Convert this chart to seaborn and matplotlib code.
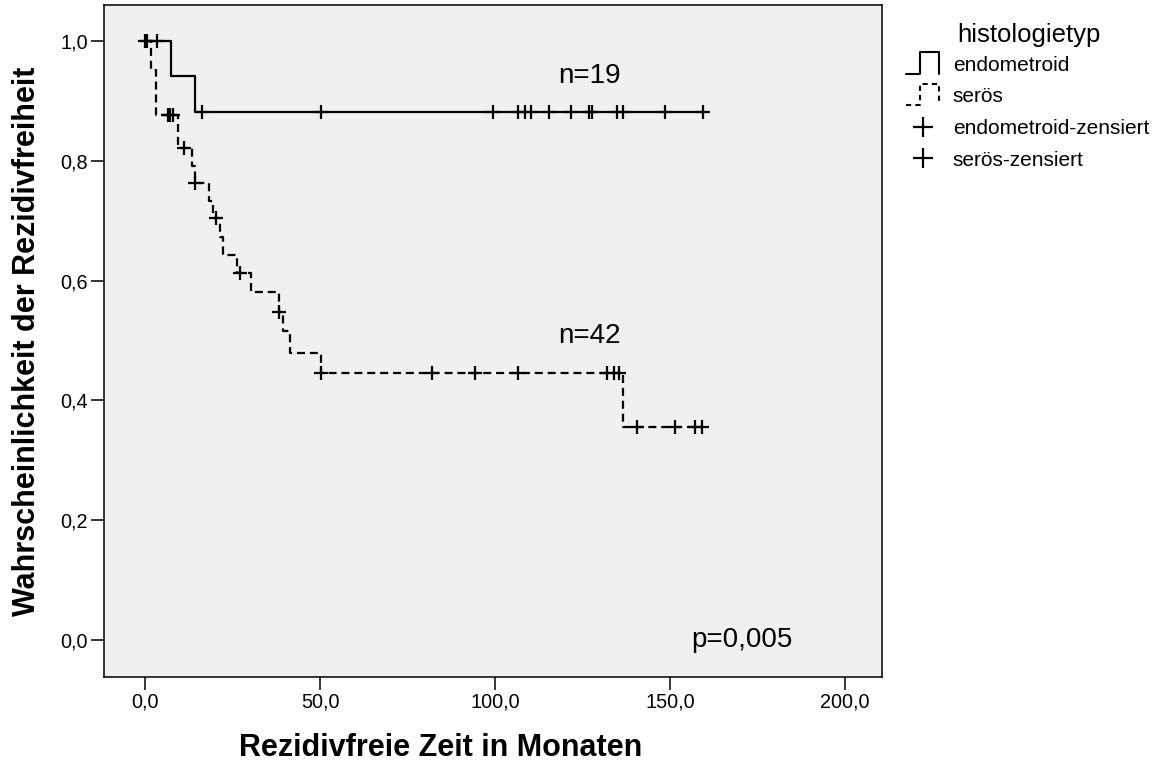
import numpy as np
import pandas as pd
import matplotlib
matplotlib.use("Agg")
import matplotlib.pyplot as plt
import seaborn as sns
from matplotlib.lines import Line2D
from matplotlib.legend_handler import HandlerBase

# ---------------- data ----------------
# endometroid: event times (months) and survival after each step
endo_event_times = [7.3, 14.4]
endo_surv = [0.941, 0.882]
endo_censor_times = [0.0, 3.3, 16.3, 50.3, 99.5, 106.5, 108.4, 110.3, 115.4,
                     121.6, 126.8, 127.6, 134.7, 136.6, 148.6, 159.5]

# serös
sero_event_times = [1.6, 3.1, 9.3, 13.3, 14.4, 18.3, 19.4, 21.4, 22.3, 26.4,
                    30.4, 38.2, 39.3, 41.3, 50.3, 136.4]
sero_surv = [0.951, 0.877, 0.821, 0.792, 0.763, 0.733, 0.704, 0.673, 0.643,
             0.612, 0.580, 0.547, 0.515, 0.479, 0.445, 0.356]
sero_censor_times = [0.6, 6.5, 7.2, 7.9, 11.2, 14.4, 20.2, 27.0, 38.3, 50.3,
                     82.1, 94.4, 106.4, 132.0, 133.9, 135.3, 140.5, 151.5,
                     157.2, 159.1]

groups = ["endometroid", "serös"]
legend_title = "histologietyp"
n_labels = ["n=19", "n=42"]
p_label = "p=0,005"
x_ticks = [0, 50, 100, 150, 200]
y_ticks = [0.0, 0.2, 0.4, 0.6, 0.8, 1.0]


def step_frame(ev_t, surv, cens_t):
    end = max(max(cens_t), max(ev_t))
    t = [0.0] + list(ev_t) + [end]
    s = [1.0] + list(surv) + [surv[-1]]
    return pd.DataFrame({"t": t, "s": s})


def censor_frame(ev_t, surv, cens_t):
    ev = np.array(ev_t)
    sv = np.array([1.0] + list(surv))
    idx = np.searchsorted(ev, np.array(cens_t), side="right")
    return pd.DataFrame({"t": cens_t, "s": sv[idx]})


# ---------------- style ----------------
sns.set_style("ticks")
plt.rcParams["font.family"] = ["Liberation Sans", "DejaVu Sans"]
for k in ["text.color", "axes.labelcolor", "xtick.color", "ytick.color",
          "axes.edgecolor"]:
    plt.rcParams[k] = "black"

fig = plt.figure(figsize=(11.58, 7.63), dpi=100)
ax = fig.add_axes([104 / 1158, 1 - 677 / 763, (882 - 104) / 1158, (677 - 5) / 763])
ax.set_facecolor("#f0f0f0")

lw = 1.6
dash = (0, (3.6, 2.2))

endo_df = step_frame(endo_event_times, endo_surv, endo_censor_times)
sero_df = step_frame(sero_event_times, sero_surv, sero_censor_times)

sns.lineplot(data=endo_df, x="t", y="s", ax=ax, color="black", lw=lw,
             drawstyle="steps-post", estimator=None, sort=False)
sns.lineplot(data=sero_df, x="t", y="s", ax=ax, color="black", lw=lw,
             drawstyle="steps-post", estimator=None, sort=False, linestyle=dash)

endo_c = censor_frame(endo_event_times, endo_surv, endo_censor_times)
sero_c = censor_frame(sero_event_times, sero_surv, sero_censor_times)
sns.scatterplot(data=endo_c, x="t", y="s", ax=ax, marker="+", s=95,
                color="black", linewidth=1.6, zorder=5)
sns.scatterplot(data=sero_c, x="t", y="s", ax=ax, marker="+", s=95,
                color="black", linewidth=1.6, zorder=5)

ax.set_xlim(-11.7, 210.5)
ax.set_ylim(-0.062, 1.06)
ax.set_xticks(x_ticks)
ax.set_xticklabels([f"{v:.1f}".replace(".", ",") for v in x_ticks])
ax.set_yticks(y_ticks)
ax.set_yticklabels([f"{v:.1f}".replace(".", ",") for v in y_ticks])
ax.tick_params(axis="both", labelsize=14.3, length=9.5, width=1.1,
               color="black", labelcolor="black", direction="out")
ax.tick_params(axis="x", pad=2)
ax.tick_params(axis="y", pad=2)
for sp in ax.spines.values():
    sp.set_visible(True)
    sp.set_color("black")
    sp.set_linewidth(1.1)

ax.set_xlabel("Rezidivfreie Zeit in Monaten", fontsize=22, fontweight="bold",
              color="black")
ax.set_ylabel("Wahrscheinlichkeit der Rezidivfreiheit", fontsize=22,
              fontweight="bold", color="black")
ax.xaxis.set_label_coords(0.433, -0.083)
ax.yaxis.set_label_coords(-0.08, 0.5)

ax.text(127, 0.942, n_labels[0], fontsize=20, ha="center", va="center",
        color="black")
ax.text(127, 0.507, n_labels[1], fontsize=20, ha="center", va="center",
        color="black")
ax.text(170.5, 0.0, p_label, fontsize=20, ha="center", va="center",
        color="black")


# ---------------- legend ----------------
class StepHandler(HandlerBase):
    def __init__(self, ls):
        super().__init__()
        self.ls = ls

    def create_artists(self, legend, orig_handle, xdescent, ydescent, width,
                       height, fontsize, trans):
        x0 = -xdescent
        y0 = -ydescent
        xs = x0 + width * np.array([0.0, 0.42, 0.42, 1.0, 1.0])
        ys = y0 + height * np.array([-0.2, -0.2, 1.3, 1.3, -0.2])
        line = Line2D(xs, ys, color="black", lw=1.5, linestyle=self.ls)
        line.set_transform(trans)
        return [line]


h_endo = Line2D([], [], color="black")
h_sero = Line2D([], [], color="black", linestyle="--")
h_c1 = Line2D([], [], marker="+", ls="none", color="black", ms=15, mew=1.6)
h_c2 = Line2D([], [], marker="+", ls="none", color="black", ms=15, mew=1.6)

leg = fig.legend([h_endo, h_sero, h_c1, h_c2],
                 [groups[0], groups[1], groups[0] + "-zensiert",
                  groups[1] + "-zensiert"],
                 loc="upper left",
                 bbox_to_anchor=(906 / 1158, 1 - 56 / 763),
                 frameon=False, fontsize=15,
                 handlelength=1.6, handletextpad=0.65, labelspacing=0.6,
                 borderaxespad=0, borderpad=0,
                 handler_map={h_endo: StepHandler("-"),
                              h_sero: StepHandler((0, (2.5, 2.0)))})
for t in leg.get_texts():
    t.set_color("black")
fig.text(1029 / 1158, 1 - 35 / 763, legend_title, fontsize=18.5,
         ha="center", va="center", color="black")

fig.savefig("out.png", dpi=100, facecolor="white")
